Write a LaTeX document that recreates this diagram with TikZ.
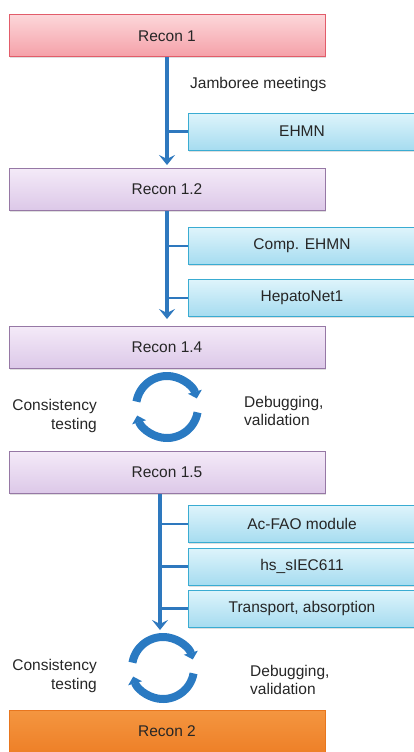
\documentclass[tikz,border=0pt]{standalone}
\usepackage{fontspec}
\setmainfont{Liberation Sans}
\usepackage{tikz}
\usetikzlibrary{arrows.meta,positioning,calc,shadows}
\definecolor{flowblue}{HTML}{2E78BE}
\definecolor{spinblue}{HTML}{2A7AC2}
\definecolor{inkgray}{HTML}{262626}
\newcommand{\labelsize}{\fontsize{15.5}{18.5}\selectfont}
\tikzset{
  rbox/.style={draw, line width=1pt, minimum width=316pt, minimum height=42pt,
               inner sep=0pt, font=\labelsize, text=inkgray,
               drop shadow={opacity=0.25, shadow xshift=1pt, shadow yshift=-1.5pt}},
  startbox/.style={rbox, draw={rgb,255:red,226;green,92;blue,106},
               top color={rgb,255:red,252;green,214;blue,217},
               bottom color={rgb,255:red,245;green,160;blue,168}},
  stagebox/.style={rbox, draw={rgb,255:red,150;green,120;blue,165},
               top color={rgb,255:red,244;green,234;blue,248},
               bottom color={rgb,255:red,220;green,200;blue,232}},
  endbox/.style={rbox, draw={rgb,255:red,232;green,118;blue,30},
               top color={rgb,255:red,244;green,150;blue,64},
               bottom color={rgb,255:red,238;green,128;blue,40}},
  modbox/.style={rbox, minimum width=228pt, minimum height=37pt,
               draw={rgb,255:red,58;green,172;blue,210},
               top color={rgb,255:red,222;green,244;blue,251},
               bottom color={rgb,255:red,166;green,220;blue,240}},
  flow/.style={-{Stealth[length=10pt,width=16pt,inset=4pt]}, line width=3.5pt, flowblue},
  tie/.style={line width=2.5pt, flowblue},
  spin/.style={-{Triangle[length=7pt,width=14pt]}, line width=8pt, spinblue},
  lnote/.style={font=\labelsize, text=inkgray, align=right, inner sep=0pt},
  rnote/.style={font=\labelsize, text=inkgray, align=left, inner sep=0pt},
}

\begin{document}
\begin{tikzpicture}[x=1pt, y=1pt]
  \useasboundingbox (0,0) rectangle (414,-752);
  % reconstruction stages
  \node[startbox] (r1)  at (167,-36)    {Recon 1};
  \node[stagebox] (r12) at (167,-189.5) {Recon 1.2};
  \node[stagebox] (r14) at (167,-347.5) {Recon 1.4};
  \node[stagebox] (r15) at (167,-472.5) {Recon 1.5};
  \node[endbox]   (r2)  at (167,-731)   {Recon 2};
  % merged resources
  \node[modbox] (ehmn)   at (302,-131.5) {EHMN};
  \node[modbox] (cehmn)  at (302,-246)   {Comp. EHMN};
  \node[modbox] (hepato) at (302,-298)   {HepatoNet1};
  \node[modbox] (acfao)  at (302,-524)   {Ac-FAO module};
  \node[modbox] (siec)   at (302,-566.5) {hs\_sIEC611};
  \node[modbox] (trans)  at (302,-608.5) {Transport, absorption};
  \node[rnote, anchor=west] (jam) at (190,-84) {Jamboree meetings};
  % trunks
  \draw[flow, shorten >=3pt] (r1) -- (r12);
  \draw[flow, shorten >=7pt] (r12) -- (r14);
  \coordinate (t3) at ([xshift=-7pt]r15.south);
  \coordinate (t3end) at (160,-630);
  \draw[flow] (t3) -- (t3end);
  \draw[tie] (ehmn.west) -- (ehmn.west -| r1.south);
  \draw[tie] (cehmn.west) -- (cehmn.west -| r1.south);
  \draw[tie] (hepato.west) -- (hepato.west -| r1.south);
  \foreach \m in {acfao, siec, trans}
    \draw[tie] (\m.west) -- (\m.west -| t3);
  % checking loops
  \coordinate (c1) at (167,-407);
  \coordinate (c2) at (163,-668);
  \foreach \c in {c1, c2} {
    \draw[spin] ([shift={(170:31)}]\c) arc[start angle=170, end angle=16, radius=31];
    \draw[spin] ([shift={(-10:31)}]\c) arc[start angle=-10, end angle=-164, radius=31];
  }
  \node[lnote, anchor=east] (ct1) at (97,-416) {Consistency\\testing};
  \node[rnote, anchor=west] (dv1) at (244,-411) {Debugging,\\validation};
  \node[lnote, anchor=east] (ct2) at (97,-676) {Consistency\\testing};
  \node[rnote, anchor=west] (dv2) at (250,-680) {Debugging,\\validation};
\end{tikzpicture}
\end{document}
